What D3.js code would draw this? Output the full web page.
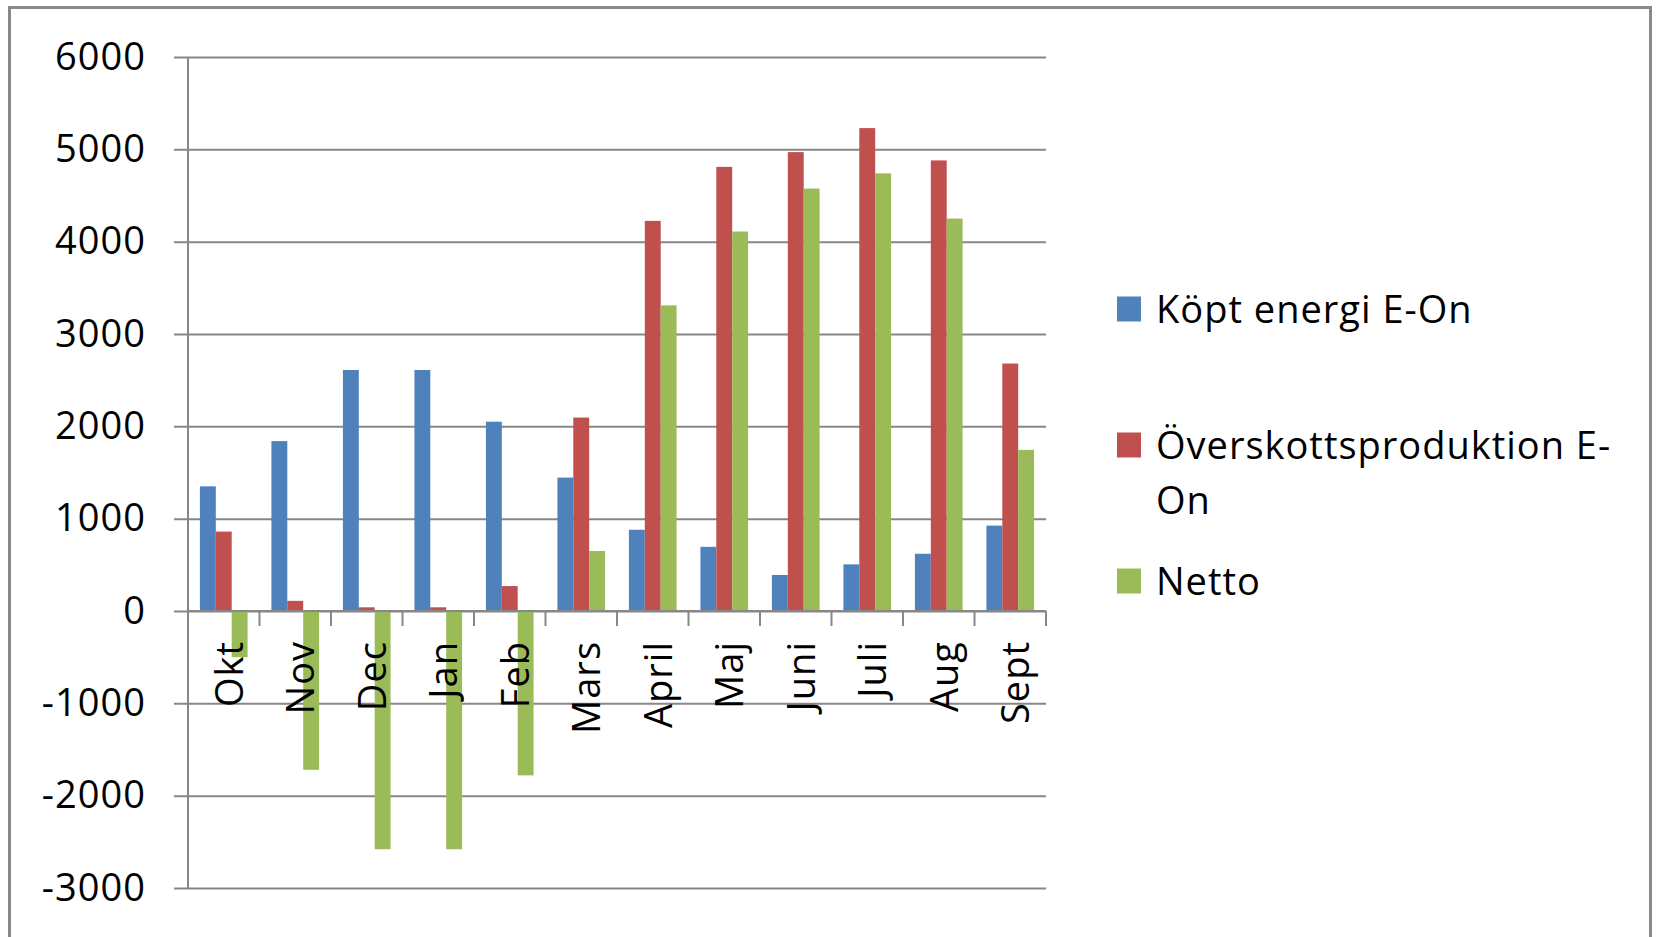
<!DOCTYPE html>
<html>
<head>
<meta charset="utf-8">
<script src="https://cdn.jsdelivr.net/npm/d3@7"></script>
<style>
  body { margin: 0; background: #fff; }
  text { font-family: 'Open Sans', Lato, sans-serif; fill: #000; }
</style>
</head>
<body>
<svg width="1656" height="937"></svg>
<script>
var months = ['Okt', 'Nov', 'Dec', 'Jan', 'Feb', 'Mars', 'April', 'Maj', 'Juni', 'Juli', 'Aug', 'Sept'];
var kopt = [1350, 1840, 2610, 2610, 2050, 1445, 880, 695, 390, 505, 620, 925];
var overskott = [860, 110, 40, 40, 270, 2095, 4225, 4810, 4970, 5230, 4880, 2680];
var netto = [-500, -1720, -2580, -2580, -1780, 650, 3310, 4110, 4575, 4740, 4250, 1745];
var seriesNames = ['Köpt energi E-On', 'Överskottsproduktion E-On', 'Netto'];
var yTicks = [-3000, -2000, -1000, 0, 1000, 2000, 3000, 4000, 5000, 6000];

var colors = ['#4F81BD', '#C0504D', '#9BBB59'];
var series = [kopt, overskott, netto];

var plotLeft = 188;
var plotRight = 1046;
var fontSize = 38;
var fontFamily = "'Open Sans', sans-serif";
var spacing = '1px';

var svg = d3.select('svg');

// outer chart frame (bottom runs off the page)
svg.append('rect')
  .attr('x', 9.5)
  .attr('y', 7.5)
  .attr('width', 1641)
  .attr('height', 1000)
  .attr('fill', '#fff')
  .attr('stroke', '#898989')
  .attr('stroke-width', 3);

var yScale = d3.scaleLinear()
  .domain([-3000, 6000])
  .range([888, 57]);

var xScale = d3.scaleBand()
  .domain(months)
  .range([plotLeft, plotRight]);

var barW = xScale.bandwidth() / 4.5;

// gridlines + y labels
var yAxis = d3.axisLeft(yScale)
  .tickValues(yTicks)
  .tickSizeInner(-(plotRight - 174))
  .tickSizeOuter(0)
  .tickPadding(28)
  .tickFormat(function(d) { return String(d); });

var yG = svg.append('g')
  .attr('transform', 'translate(174,0)')
  .call(yAxis);
yG.select('.domain').remove();
yG.selectAll('.tick line').attr('stroke', '#878787').attr('stroke-width', 2);
yG.selectAll('.tick text')
  .attr('font-size', fontSize + 'px')
  .attr('letter-spacing', spacing)
  .style('font-family', fontFamily);

// bars
series.forEach(function(values, i) {
  svg.append('g').selectAll('rect').data(values).enter()
    .append('rect')
    .attr('x', function(d, j) { return xScale(months[j]) + 0.75 * barW + i * barW; })
    .attr('y', function(d) { return yScale(Math.max(0, d)); })
    .attr('width', barW)
    .attr('height', function(d) { return Math.abs(yScale(d) - yScale(0)); })
    .attr('fill', colors[i]);
});

// value axis line
svg.append('line')
  .attr('x1', plotLeft).attr('x2', plotLeft)
  .attr('y1', yScale(6000)).attr('y2', yScale(-3000))
  .attr('stroke', '#878787').attr('stroke-width', 2);

// category axis along zero
var y0 = yScale(0);
svg.append('line')
  .attr('x1', plotLeft).attr('x2', plotRight)
  .attr('y1', y0).attr('y2', y0)
  .attr('stroke', '#878787').attr('stroke-width', 2);

var boundaries = months.map(function(m) { return xScale(m); }).concat([plotRight]);
svg.append('g').selectAll('line').data(boundaries).enter()
  .append('line')
  .attr('x1', function(d) { return d; })
  .attr('x2', function(d) { return d; })
  .attr('y1', y0)
  .attr('y2', y0 + 15)
  .attr('stroke', '#878787')
  .attr('stroke-width', 2);

var xAxis = d3.axisBottom(xScale).tickSize(0);
var xG = svg.append('g')
  .attr('transform', 'translate(0,' + y0 + ')')
  .call(xAxis);
xG.select('.domain').remove();
xG.selectAll('.tick text')
  .attr('transform', 'rotate(-90)')
  .attr('text-anchor', 'end')
  .attr('x', -30)
  .attr('y', 19)
  .attr('dy', 0)
  .attr('font-size', fontSize + 'px')
  .attr('letter-spacing', spacing)
  .style('font-family', fontFamily);

// legend
var legendItems = [
  { lines: ['Köpt energi E-On'], y: 309 },
  { lines: ['Överskottsproduktion E-', 'On'], y: 445 },
  { lines: ['Netto'], y: 581 }
];

var legend = svg.append('g');
legendItems.forEach(function(item, i) {
  legend.append('rect')
    .attr('x', 1117)
    .attr('y', item.y - 12.5)
    .attr('width', 24)
    .attr('height', 25)
    .attr('fill', colors[i]);
  var t = legend.append('text')
    .attr('x', 1156)
    .attr('y', item.y)
    .attr('font-size', fontSize + 'px')
    .attr('letter-spacing', spacing)
    .style('font-family', fontFamily);
  item.lines.forEach(function(line, k) {
    t.append('tspan')
      .attr('x', 1156)
      .attr('dy', k === 0 ? '0.36em' : 55)
      .text(line);
  });
});
</script>
</body>
</html>
